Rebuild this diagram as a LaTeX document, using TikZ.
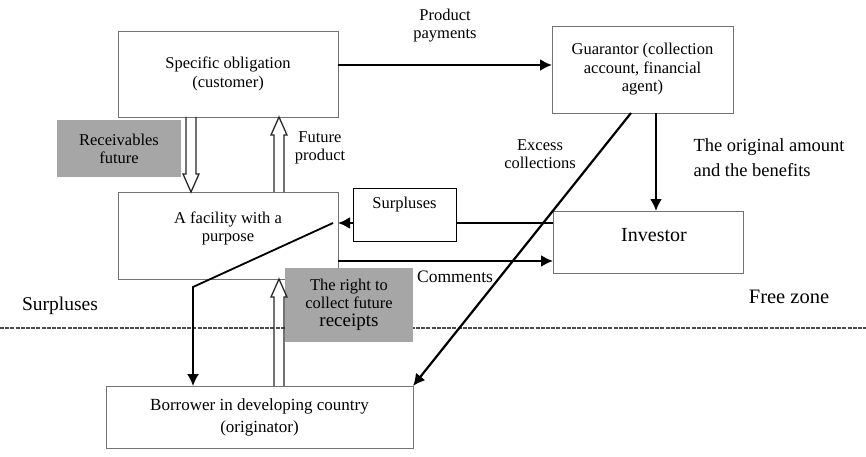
\documentclass[tikz,border=0pt]{standalone}
\usepackage{fontspec}
\setmainfont{Liberation Serif}
\usetikzlibrary{arrows.meta}
\definecolor{boxgrey}{RGB}{166,166,166}

\begin{document}
\begin{tikzpicture}[x=1pt,y=-1pt,
  box/.style={draw=black!55,line width=0.8pt,outer sep=0pt,inner sep=2pt,align=center,font=\fontsize{16.5}{18.5}\selectfont},
  greybox/.style={fill=boxgrey,outer sep=0pt,inner sep=2pt,align=center,font=\fontsize{16.5}{18}\selectfont},
  txt/.style={align=center,font=\fontsize{16.5}{18}\selectfont},
  flow/.style={line width=2.2pt,-{Latex[length=12pt,width=12pt]}},
  hollow/.style={line width=1.3pt,black!85,line join=miter},
  ]
  \useasboundingbox (0,0) rectangle (866,457);

		\draw[black!70,line width=1.2pt,dash pattern=on 4pt off 1.2pt] (0,328) -- (866,328);

		\node[box,minimum width=220,minimum height=86] (spec) at (228,74) {Specific obligation\\(customer)};
		\node[box,minimum width=181,minimum height=87] (guar) at (642.5,69.5) {Guarantor (collection\\account, financial\\agent)};
		\node[box,minimum width=190,minimum height=62] (inv) at (648,242) {};
		\node[txt,font=\fontsize{20}{22}\selectfont] (invtext) at (654,235) {Investor};
		\node[box,minimum width=220,minimum height=87] (fac) at (228,235.5) {};
		\node[txt] (factext) at (228,228) {A facility with a\\purpose};
		\node[box,draw=black,line width=1pt,minimum width=103,minimum height=53] (surp) at (404.5,214.5) {};
		\node[txt] (surptext) at (404.5,205) {Surpluses};
		\node[box,minimum width=307,minimum height=62,font=\fontsize{17}{22}\selectfont] (borr) at (259.5,417) {Borrower in developing country\\(originator)};
		\node[greybox,minimum width=124,minimum height=57] (rec) at (119,148.5) {Receivables\\future};
		\node[greybox,minimum width=128,minimum height=74] (right) at (349,305) {The right to\\collect future\\{\fontsize{19}{21}\selectfont receipts}};

	    \node[txt] (paylab) at (445,26) {Product\\payments};
	    \node[txt] (futlab) at (320,148) {Future\\product};
	    \node[txt] (exclab) at (540,154) {Excess\\collections};
	    \node[txt,align=left,anchor=west,font=\fontsize{18.5}{25}\selectfont] (origlab) at (690,157.5) {The original amount\\and the benefits};
	    \node[txt,font=\fontsize{17.5}{18}\selectfont] (comlab) at (455,277) {Comments};
	    \node[txt,font=\fontsize{19.5}{22}\selectfont] (surplab) at (60,306) {Surpluses};
	    \node[txt,font=\fontsize{20.5}{22}\selectfont] (freelab) at (789,297) {Free zone};

		\coordinate (payrow) at (0,65);
		\coordinate (srow) at (0,223);
		\coordinate (crow) at (0,261);
		\coordinate (downcol) at (186,0);
		\coordinate (upcol) at (274,0);
		\coordinate (invcol) at (656,0);
		\coordinate (exccol) at (631,0);
		\coordinate (fstart) at (333,223);
		\coordinate (bend) at (193,287);

	    \draw[flow] (spec.east |- payrow) -- (guar.west |- payrow);
	    \draw[flow] (guar.south -| invcol) -- (inv.north -| invcol);
	    \draw[flow] (guar.south -| exccol) -- (borr.north east);
	    \draw[line width=2.2pt] (inv.west |- srow) -- (surp.east |- srow);
	    \draw[flow] (surp.west |- srow) -- (fac.east |- srow);
	    \draw[flow] (fac.east |- crow) -- (inv.west |- crow);
	    \draw[flow,line width=1.8pt] (fstart) -- (bend) -- (bend |- borr.north);

	    % hollow arrows
	    \draw[hollow] (spec.south -| downcol) -- ++(0,57) -- ++(-3,0) -- ++(8,18) -- ++(8,-18) -- ++(-3,0) -- ++(0,-57);
	    \draw[hollow] (fac.north -| upcol) -- ++(0,-57) -- ++(-3,0) -- ++(8,-18) -- ++(8,18) -- ++(-3,0) -- ++(0,57);
	    \draw[hollow] (borr.north -| upcol) -- ++(0,-89) -- ++(-3,0) -- ++(8,-18) -- ++(8,18) -- ++(-3,0) -- ++(0,89);
\end{tikzpicture}
\end{document}
